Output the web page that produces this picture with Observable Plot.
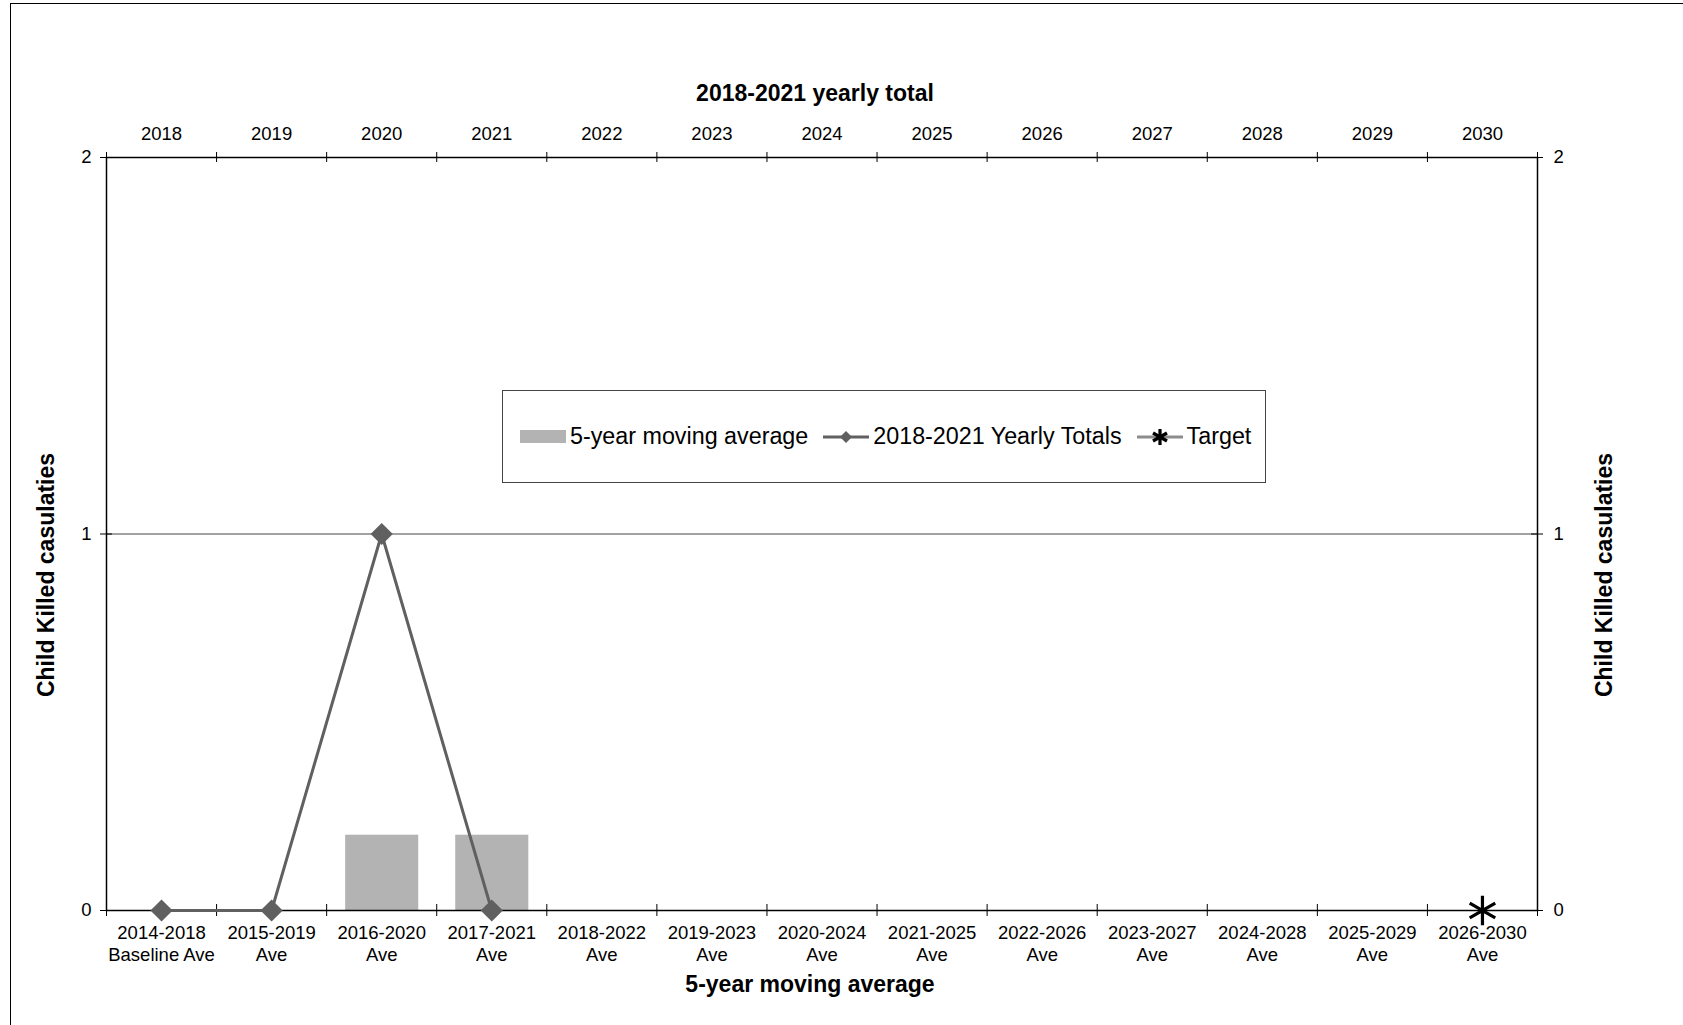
<!DOCTYPE html>
<html>
<head>
<meta charset="utf-8">
<script src="https://cdn.jsdelivr.net/npm/d3@7"></script>
<script src="https://cdn.jsdelivr.net/npm/@observablehq/plot@0.6"></script>
<style>
html, body { margin: 0; padding: 0; background: #fff; overflow: hidden; width: 1683px; height: 1025px; }
#wrap { position: relative; width: 1683px; height: 1025px; font-family: "Liberation Sans", Arial, sans-serif; }
#border { position: absolute; left: 10px; top: 3px; width: 1800px; height: 1200px; border-left: 1.5px solid #000; border-top: 1.5px solid #000; }
#chart { position: absolute; left: 0; top: 0; }
#legend { position: absolute; left: 502px; top: 390px; width: 764px; height: 93px; border: 1px solid #444; background: #fff;
  display: flex; align-items: center; font-size: 23.3px; color: #000; padding-left: 17px; box-sizing: border-box; white-space: nowrap; }
#legend .sw { display: inline-block; margin-right: 4px; }
#legend .gap { margin-right: 15px; }
</style>
</head>
<body>
<div id="wrap">
  <div id="border"></div>
  <div id="chart"></div>
  <div id="legend"></div>
</div>
<script>
// ---- data ----
const categories = [
  "2014-2018\nBaseline Ave", "2015-2019\nAve", "2016-2020\nAve", "2017-2021\nAve",
  "2018-2022\nAve", "2019-2023\nAve", "2020-2024\nAve", "2021-2025\nAve",
  "2022-2026\nAve", "2023-2027\nAve", "2024-2028\nAve", "2025-2029\nAve", "2026-2030\nAve"
];
const years = ["2018","2019","2020","2021","2022","2023","2024","2025","2026","2027","2028","2029","2030"];
const movingAverage = [null, null, 0.2, 0.2, null, null, null, null, null, null, null, null, null];
const yearlyTotals = [0, 0, 1, 0];
const target = [null, null, null, null, null, null, null, null, null, null, null, null, 0];
const yTicks = [0, 1, 2];
const seriesNames = ["5-year moving average", "2018-2021 Yearly Totals", "Target"];
const topTitle = "2018-2021 yearly total";
const bottomTitle = "5-year moving average";
const yTitle = "Child Killed casulaties";

// ---- tables ----
const barData = movingAverage.map((v, i) => ({i, value: v})).filter(d => d.value != null);
const lineData = yearlyTotals.map((v, i) => ({pos: i + 0.5, value: v}));
const targetData = target.map((v, i) => ({pos: i + 0.5, value: v})).filter(d => d.value != null);
const centers = categories.map((c, i) => i + 0.5);
const bounds = d3.range(categories.length + 1);

const W = 1683, H = 1025;
const chart = Plot.plot({
  width: W,
  height: H,
  marginLeft: 106,
  marginRight: 146,
  marginTop: 157,
  marginBottom: 115,
  style: {fontFamily: '"Liberation Sans", Arial, sans-serif', fontSize: "18.5px", color: "#000", background: "transparent", overflow: "visible"},
  x: {domain: [0, categories.length]},
  y: {domain: [0, 2]},
  marks: [
    Plot.ruleY([1], {stroke: "#444", strokeWidth: 1}),
    Plot.rectY(barData, {x1: d => d.i, x2: d => d.i + 1, y: "value", fill: "#b3b3b3", insetLeft: 19, insetRight: 18}),
    Plot.frame({stroke: "#000", strokeWidth: 1.5}),
    // crossing tick marks
    Plot.ruleX(bounds, {x: d => d, y1: 0, y2: 0, insetTop: -6, insetBottom: -6, stroke: "#000", strokeWidth: 1}),
    Plot.ruleX(bounds, {x: d => d, y1: 2, y2: 2, insetTop: -5, insetBottom: -5, stroke: "#000", strokeWidth: 1}),
    Plot.ruleY(yTicks, {y: d => d, x1: 0, x2: 0, insetLeft: -6, insetRight: -6, stroke: "#000", strokeWidth: 1}),
    Plot.ruleY(yTicks, {y: d => d, x1: categories.length, x2: categories.length, insetLeft: -6, insetRight: -6, stroke: "#000", strokeWidth: 1}),
    // axes labels
    Plot.axisX(centers, {anchor: "bottom", tickSize: 0, tickPadding: 14, lineHeight: 1.14, label: null,
      tickFormat: d => categories[Math.floor(d)]}),
    Plot.axisX(centers, {anchor: "top", tickSize: 0, tickPadding: 18, label: null,
      tickFormat: d => years[Math.floor(d)]}),
    Plot.axisY(yTicks, {anchor: "left", tickSize: 0, tickPadding: 15, label: null, tickFormat: d => String(d)}),
    Plot.axisY(yTicks, {anchor: "right", tickSize: 0, tickPadding: 16, label: null, tickFormat: d => String(d)}),
    // series
    Plot.line(lineData, {x: "pos", y: "value", stroke: "#606060", strokeWidth: 3}),
    Plot.dot(lineData, {x: "pos", y: "value", symbol: "diamond2", r: 10, fill: "#606060", stroke: "none"}),
    Plot.dot(targetData, {x: "pos", y: "value", symbol: "asterisk", r: 14, stroke: "#000", strokeWidth: 3.2}),
    // titles
    Plot.text([topTitle], {text: d => d, frameAnchor: "top", dx: -7, dy: -73, fontWeight: "bold", fontSize: 23}),
    Plot.text([bottomTitle], {text: d => d, frameAnchor: "bottom", dx: -12, dy: 81, fontWeight: "bold", fontSize: 23}),
    Plot.text([yTitle], {text: d => d, frameAnchor: "left", textAnchor: "middle", dx: -60, dy: 41, rotate: -90, fontWeight: "bold", fontSize: 23}),
    Plot.text([yTitle], {text: d => d, frameAnchor: "right", textAnchor: "middle", dx: 67, dy: 41, rotate: -90, fontWeight: "bold", fontSize: 23})
  ]
});
document.getElementById("chart").appendChild(chart);

// ---- legend ----
const legend = document.getElementById("legend");
const barSw = `<svg class="sw" width="46" height="13"><rect x="0" y="0" width="46" height="13" fill="#b3b3b3"/></svg>`;
const lineSw = `<svg class="sw" width="46" height="20"><line x1="0" x2="46" y1="10" y2="10" stroke="#606060" stroke-width="3"/><path d="M23,4L29,10L23,16L17,10Z" fill="#606060"/></svg>`;
const tgtSw = `<svg class="sw" width="46" height="20"><line x1="0" x2="46" y1="10" y2="10" stroke="#8c8c8c" stroke-width="3"/>
  <g stroke="#000" stroke-width="3.2"><line x1="23" x2="23" y1="2" y2="18"/><line x1="16" x2="30" y1="6" y2="14"/><line x1="16" x2="30" y1="14" y2="6"/></g></svg>`;
const sws = [barSw, lineSw, tgtSw];
legend.innerHTML = seriesNames.map((n, k) =>
  `${sws[k]}<span class="${k < seriesNames.length - 1 ? 'gap' : ''}">${n}</span>`).join("");
</script>
</body>
</html>
